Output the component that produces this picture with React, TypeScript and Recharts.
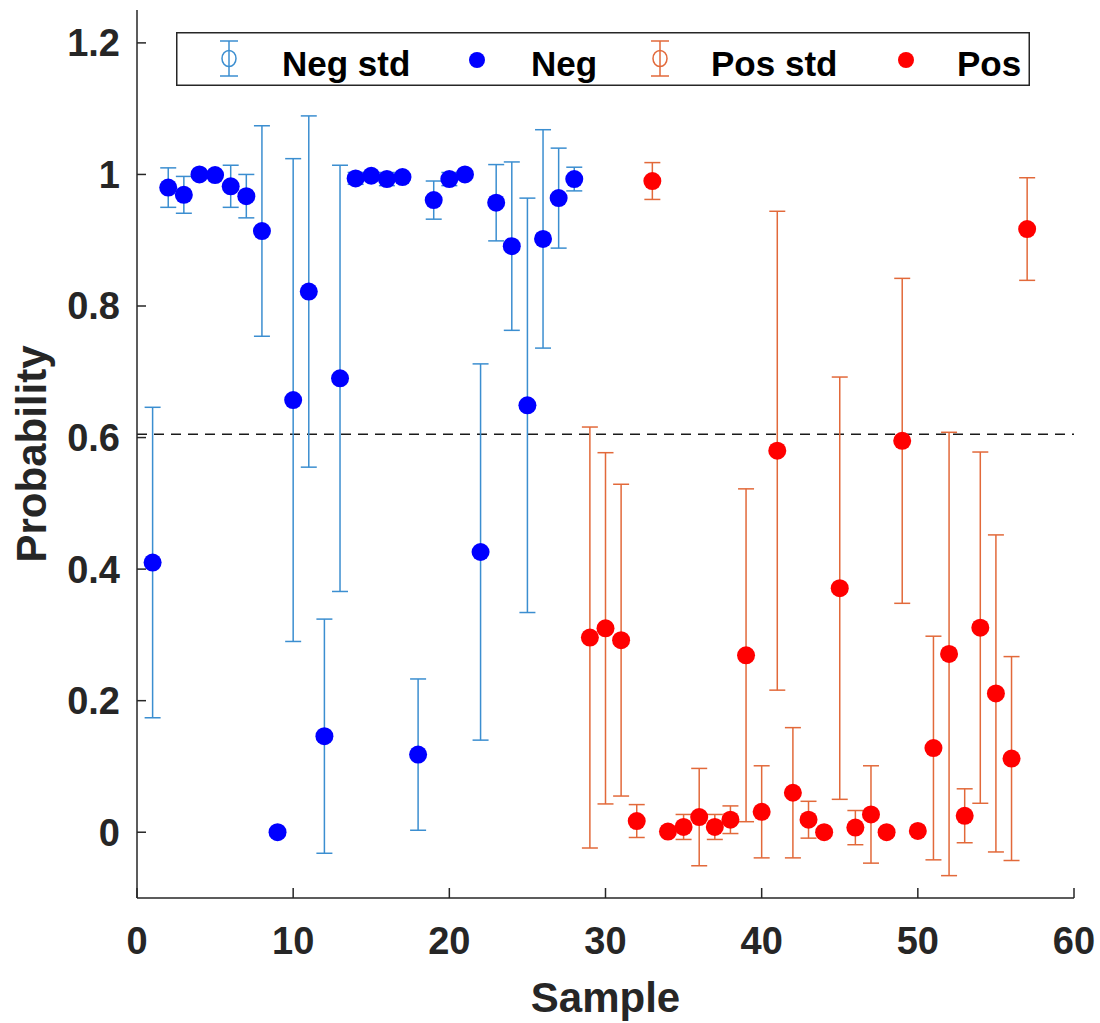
import React from "react";
import {
  ComposedChart,
  Scatter,
  ErrorBar,
  XAxis,
  YAxis,
  ReferenceLine,
  Legend,
} from "recharts";

// samples 1-28 are negatives, 29-57 positives
const negSample = [1, 2, 3, 4, 5, 6, 7, 8, 9, 10, 11, 12, 13, 14, 15, 16, 17, 18, 19, 20, 21, 22, 23, 24, 25, 26, 27, 28];
const negProb = [0.41, 0.98, 0.969, 1.0, 0.999, 0.982, 0.967, 0.914, 0.0, 0.657, 0.822, 0.146, 0.69, 0.994, 0.998, 0.993, 0.996, 0.118, 0.961, 0.993, 1.0, 0.426, 0.957, 0.891, 0.649, 0.902, 0.964, 0.993];
const negStd = [0.236, 0.03, 0.028, 0, 0, 0.032, 0.033, 0.16, 0, 0.367, 0.267, 0.178, 0.324, 0.009, 0.003, 0.01, 0.004, 0.115, 0.029, 0.01, 0, 0.286, 0.058, 0.128, 0.315, 0.166, 0.076, 0.018];

const posSample = [29, 30, 31, 32, 33, 34, 35, 36, 37, 38, 39, 40, 41, 42, 43, 44, 45, 46, 47, 48, 49, 50, 51, 52, 53, 54, 55, 56, 57];
const posProb = [0.296, 0.31, 0.292, 0.017, 0.99, 0.001, 0.008, 0.023, 0.008, 0.019, 0.269, 0.031, 0.58, 0.06, 0.019, 0.0, 0.371, 0.007, 0.027, 0.0, 0.595, 0.002, 0.128, 0.271, 0.025, 0.311, 0.211, 0.112, 0.917];
const posStd = [0.32, 0.267, 0.237, 0.025, 0.028, 0, 0.019, 0.074, 0.019, 0.021, 0.253, 0.07, 0.364, 0.099, 0.028, 0, 0.321, 0.026, 0.074, 0, 0.247, 0, 0.17, 0.337, 0.041, 0.267, 0.241, 0.155, 0.078];

const xTicks = [0, 10, 20, 30, 40, 50, 60];
const yTicks = [0, 0.2, 0.4, 0.6, 0.8, 1, 1.2];
const threshold = 0.605;

const legendNames = ["Neg std", "Neg", "Pos std", "Pos"];

const NEG_STD = "#3b8ed0";
const POS_STD = "#e2693a";
const NEG = "#0000ff";
const POS = "#ff0000";
const AXIS = "#262626";
const FONT = '"Liberation Sans", Arial, sans-serif';

const negData = negSample.map((x, i) => ({ x, y: negProb[i], err: negStd[i] }));
const posData = posSample.map((x, i) => ({ x, y: posProb[i], err: posStd[i] }));

const dot = (fill: string) => (props: any) => (
  <circle cx={props.cx} cy={props.cy} r={9} fill={fill} />
);

function ErrIcon({ cx, color }: { cx: number; color: string }) {
  return (
    <g stroke={color} strokeWidth={1.5} fill="none">
      <line x1={cx} y1={9} x2={cx} y2={44} />
      <line x1={cx - 9} y1={9} x2={cx + 9} y2={9} />
      <line x1={cx - 9} y1={44} x2={cx + 9} y2={44} />
      <ellipse cx={cx} cy={26.5} rx={7} ry={8} />
    </g>
  );
}

function LegendBox() {
  const textStyle = { fontFamily: FONT, fontWeight: 700, fontSize: 35, fill: "#000" };
  return (
    <svg width={854} height={54} style={{ display: "block" }}>
      <rect x={0.75} y={0.75} width={852.5} height={52.5} fill="#fff" stroke={AXIS} strokeWidth={1.5} />
      <ErrIcon cx={53} color={NEG_STD} />
      <text x={106} y={44} style={textStyle}>{legendNames[0]}</text>
      <circle cx={301} cy={28} r={8} fill={NEG} />
      <text x={355} y={44} style={textStyle}>{legendNames[1]}</text>
      <ErrIcon cx={484} color={POS_STD} />
      <text x={535} y={44} style={textStyle}>{legendNames[2]}</text>
      <circle cx={730} cy={28} r={8} fill={POS} />
      <text x={781} y={44} style={textStyle}>{legendNames[3]}</text>
    </svg>
  );
}

const tickStyle = { fontFamily: FONT, fontWeight: 700, fontSize: 38, fill: AXIS };

export default function App() {
  return (
    <div style={{ position: "absolute", left: 0, top: 0, background: "#fff" }}>
      <ComposedChart
        width={1100}
        height={1023}
        margin={{ top: 10, right: 26, bottom: 0, left: 0 }}
      >
        <XAxis
          type="number"
          dataKey="x"
          domain={[0, 60]}
          ticks={xTicks}
          allowDataOverflow
          height={125}
          tickSize={-10}
          tickMargin={39}
          tick={tickStyle}
          axisLine={{ stroke: AXIS, strokeWidth: 1.5 }}
          tickLine={{ stroke: AXIS, strokeWidth: 1.5 }}
          label={(p: any) => {
            const vb = p.viewBox;
            return (
              <text
                x={vb.x + vb.width / 2}
                y={vb.y + 114}
                textAnchor="middle"
                style={{ fontFamily: FONT, fontWeight: 700, fontSize: 42, fill: AXIS }}
              >
                Sample
              </text>
            );
          }}
        />
        <YAxis
          type="number"
          dataKey="y"
          domain={[-0.1, 1.25]}
          ticks={yTicks}
          allowDataOverflow
          width={137}
          tickSize={-9}
          tickMargin={26}
          tick={tickStyle}
          tickFormatter={(v: number) => String(v)}
          axisLine={{ stroke: AXIS, strokeWidth: 1.5 }}
          tickLine={{ stroke: AXIS, strokeWidth: 1.5 }}
          label={(p: any) => {
            const vb = p.viewBox;
            const cx = 31;
            const cy = vb.y + vb.height / 2;
            return (
              <text
                x={cx}
                y={cy}
                textAnchor="middle"
                dominantBaseline="central"
                transform={`rotate(-90, ${cx}, ${cy})`}
                style={{ fontFamily: FONT, fontWeight: 700, fontSize: 42, fill: AXIS }}
              >
                Probability
              </text>
            );
          }}
        />
        <ReferenceLine
          y={threshold}
          stroke="#1a1a1a"
          strokeWidth={1.5}
          strokeDasharray="10 7"
        />
        <Scatter
          name="Neg"
          data={negData}
          fill={NEG}
          shape={dot(NEG)}
          isAnimationActive={false}
        >
          <ErrorBar dataKey="err" direction="y" width={8} stroke={NEG_STD} strokeWidth={1.5} />
        </Scatter>
        <Scatter
          name="Pos"
          data={posData}
          fill={POS}
          shape={dot(POS)}
          isAnimationActive={false}
        >
          <ErrorBar dataKey="err" direction="y" width={8} stroke={POS_STD} strokeWidth={1.5} />
        </Scatter>
        <Legend
          layout="horizontal"
          verticalAlign="middle"
          align="center"
          content={() => <LegendBox />}
          wrapperStyle={{ position: "absolute", top: 32, left: 176, width: 854, height: 54 }}
        />
      </ComposedChart>
    </div>
  );
}
